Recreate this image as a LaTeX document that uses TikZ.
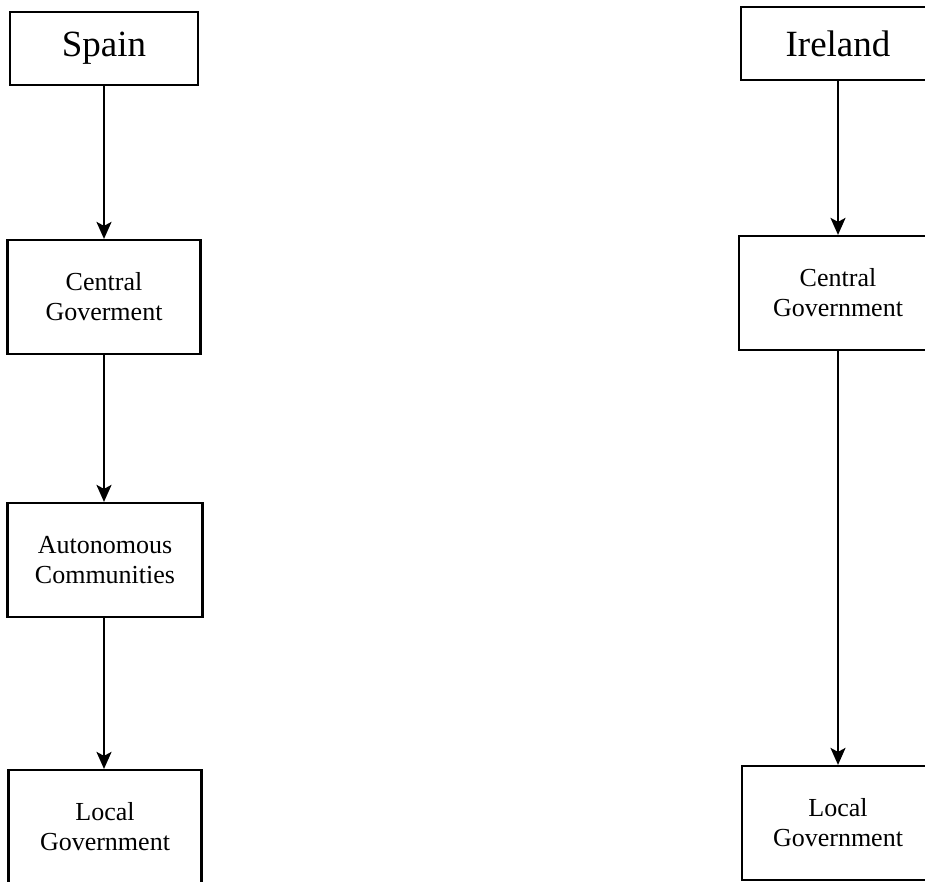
\documentclass[tikz,border=0pt]{standalone}
\usepackage{fontspec}
\setmainfont{Liberation Serif}
\usepackage{tikz}
\usetikzlibrary{arrows.meta}

\begin{document}
\begin{tikzpicture}[x=1pt,y=-1pt]
      \tikzstyle{box}=[rectangle,draw=black,line width=2.2pt,inner sep=0pt,align=center,minimum height=114pt,minimum width=193pt,font=\fontsize{26}{30}\selectfont]
      \tikzstyle{title}=[box,minimum height=73pt,font=\fontsize{37}{44}\selectfont]
      \tikzstyle{edge}=[line width=2.2pt,-{Stealth[length=17pt,width=15pt,inset=4pt]}]
      \useasboundingbox (0,0) rectangle (925,882);
      % Spain
      \node[title,minimum width=188pt] (spain) at (104, 48.5) {Spain};
      \node[box] (scentral) at (104, 297) {Central\\Goverment};
      \node[box,minimum width=195pt] (sauto) at (105, 560) {Autonomous\\Communities};
      \node[box] (slocal) at (105, 827) {Local\\Government};
      % Ireland
      \node[title,minimum width=194pt] (ireland) at (838, 43.5) {Ireland};
      \node[box,minimum width=198pt] (icentral) at (838, 293) {Central\\Government};
      \node[box,minimum width=192pt] (ilocal) at (838, 823) {Local\\Government};
      \draw[edge] (spain) -- (scentral);
      \draw[edge] (scentral) -- (scentral |- sauto.north);
      \draw[edge] (sauto.south -| scentral) -- (scentral |- slocal.north);
      \draw[edge] (ireland) -- (icentral);
      \draw[edge] (icentral) -- (ilocal);
    \end{tikzpicture}
\end{document}
